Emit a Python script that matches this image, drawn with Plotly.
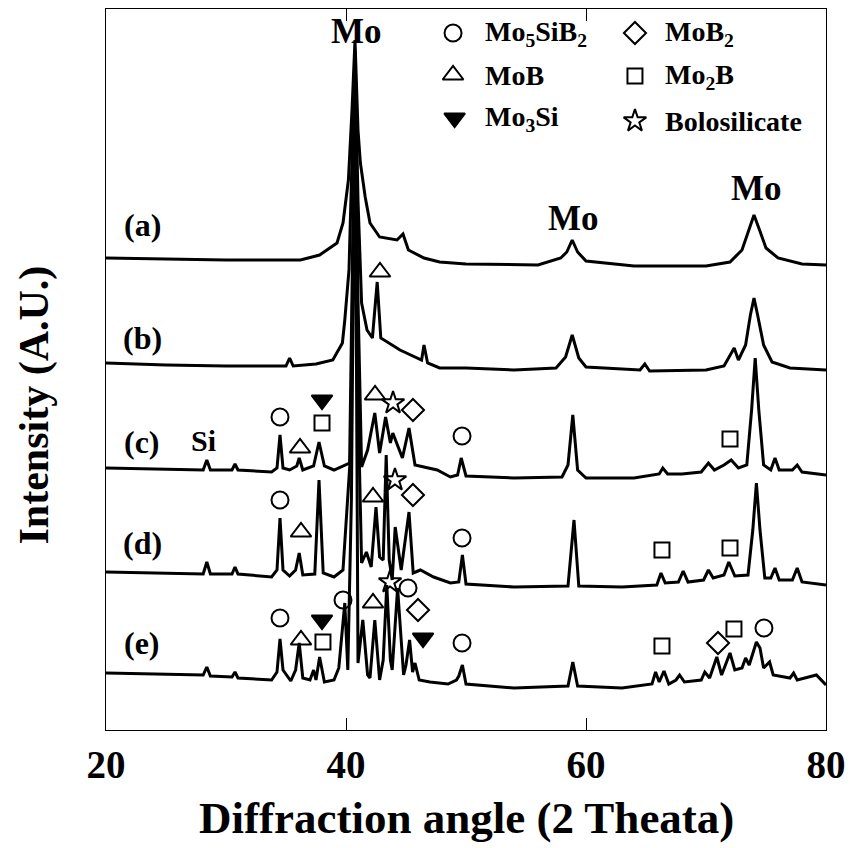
import plotly.graph_objects as go

# XRD patterns, (2 theta, intensity); each pattern already carries its stacking offset
pattern_a = [(20, 472), (25, 471), (30, 470), (34, 470), (36.2, 470), (37.8, 475), (39.25, 487), (39.75, 507),
             (40.2, 550), (40.5, 620), (40.75, 690), (41.0, 600), (41.2, 567), (41.6, 533), (42.0, 507), (42.8, 493),
             (44.25, 490), (44.75, 496), (45.2, 480), (46.5, 472), (47.8, 468), (50, 466), (56, 465), (57.9, 472),
             (58.4, 478), (58.85, 490), (59.3, 478), (60.0, 469), (64, 464), (70, 464), (72, 468), (73.0, 480),
             (73.6, 500), (74.0, 515), (74.4, 502), (75.0, 482), (76, 472), (78, 466), (80, 465)]

pattern_b = [(20, 367), (25, 365), (30, 364), (35.0, 364), (35.3, 372), (35.6, 364), (37.5, 366), (38.9, 370),
             (39.7, 387), (39.9, 410), (40.25, 460), (40.5, 580), (40.75, 680), (41.0, 530), (41.3, 427), (41.75, 400),
             (42.2, 392), (42.6, 448), (42.9, 392), (44.5, 380), (46.3, 370), (46.5, 385), (46.8, 367), (47.8, 362),
             (50, 362), (54, 360), (57.5, 362), (58.3, 373), (58.85, 395), (59.4, 372), (60, 363), (64.5, 360),
             (64.9, 366), (65.3, 359), (70, 360), (71.5, 364), (72.35, 382), (72.7, 370), (73.3, 385), (73.7, 415),
             (74.0, 432), (74.3, 415), (74.8, 385), (75.5, 368), (77, 362), (80, 360)]

pattern_c = [(20, 262), (24, 261), (28.1, 260), (28.4, 270), (28.7, 260), (30.5, 260), (30.75, 266), (31.0, 260),
             (33.8, 258), (34.25, 262), (34.5, 295), (34.75, 262), (35.3, 260), (35.9, 264), (36.1, 272), (36.4, 260),
             (37.3, 264), (37.75, 288), (38.2, 264), (39.0, 260), (40.3, 267), (40.55, 480), (40.75, 670), (41.0, 430),
             (41.3, 263), (41.8, 280), (42.4, 317), (42.8, 277), (43.3, 313), (43.7, 287), (43.9, 297), (44.7, 272),
             (45.25, 302), (45.75, 265), (47.6, 260), (48.7, 253), (49.3, 255), (49.6, 272), (50.0, 254), (54, 252),
             (58.0, 253), (58.5, 265), (58.9, 315), (59.3, 260), (60, 252), (64, 252), (66.1, 256), (66.4, 262),
             (66.8, 256), (68, 256), (69.6, 258), (70.2, 267), (70.7, 260), (71.5, 265), (72.1, 270), (72.7, 262),
             (73.4, 265), (73.8, 320), (74.1, 372), (74.4, 320), (74.8, 265), (75.4, 260), (75.75, 272), (76.1, 260),
             (77.2, 260), (77.6, 265), (78.0, 258), (80, 255)]

pattern_d = [(20, 158), (24, 157), (28.1, 156), (28.4, 168), (28.7, 156), (30.5, 156), (30.75, 163), (31.0, 156),
             (33.8, 153), (34.25, 160), (34.5, 212), (34.75, 160), (35.3, 154), (35.8, 160), (36.1, 177), (36.4, 155),
             (37.4, 156), (37.75, 250), (38.1, 157), (39.0, 153), (39.75, 160), (40.4, 280), (40.75, 660), (41.0, 330),
             (41.3, 167), (41.7, 178), (42.1, 163), (42.5, 223), (42.8, 173), (43.1, 170), (43.35, 275), (43.6, 170),
             (43.85, 150), (44.1, 203), (44.6, 160), (45.25, 218), (45.6, 157), (46.2, 160), (47.3, 153), (48.7, 147),
             (49.4, 148), (49.7, 175), (50.0, 146), (54, 143), (58.5, 144), (59.0, 210), (59.4, 144), (63, 143),
             (65.9, 145), (66.25, 157), (66.6, 147), (67.7, 148), (68.1, 159), (68.5, 148), (69.8, 150), (70.2, 160),
             (70.6, 152), (71.5, 155), (71.9, 168), (72.4, 154), (73.5, 155), (73.9, 200), (74.2, 247), (74.5, 200),
             (74.9, 152), (75.4, 152), (75.75, 162), (76.1, 150), (77.2, 150), (77.6, 162), (78.0, 148), (80, 145)]

pattern_e = [(20, 57), (24, 56), (28.1, 55), (28.4, 63), (28.7, 54), (30.5, 53), (30.75, 58), (31.0, 52),
             (33.8, 50), (34.25, 58), (34.5, 91), (34.75, 60), (35.4, 49), (35.8, 60), (36.1, 87), (36.4, 52),
             (37.0, 50), (37.3, 60), (37.5, 50), (37.8, 73), (38.2, 48), (39.0, 50), (39.4, 62), (39.9, 127),
             (40.15, 60), (40.45, 230), (40.75, 650), (41.0, 67), (41.4, 110), (41.8, 55), (42.0, 52), (42.4, 110),
             (42.8, 50), (43.1, 70), (43.4, 145), (43.7, 70), (43.85, 60), (44.3, 142), (44.8, 55), (45.0, 65),
             (45.3, 90), (45.55, 58), (45.75, 67), (46.1, 50), (47, 48), (48.5, 46), (49.2, 50), (49.4, 54),
             (49.7, 65), (50.0, 46), (54, 42), (58.5, 44), (58.9, 68), (59.3, 44), (63, 42), (65.5, 46),
             (65.8, 58), (66.1, 48), (66.5, 59), (66.9, 46), (67.5, 50), (67.8, 55), (68.2, 48), (69.6, 50),
             (69.9, 58), (70.3, 52), (70.9, 73), (71.3, 55), (72.0, 77), (72.4, 60), (73.0, 62), (73.3, 72),
             (73.6, 65), (74.2, 88), (74.5, 82), (74.8, 62), (75.3, 68), (75.6, 55), (77.0, 52), (77.3, 57),
             (77.6, 50), (79.2, 55), (80, 45)]

patterns = [pattern_a, pattern_b, pattern_c, pattern_d, pattern_e]
sample_names = ['(a)', '(b)', '(c)', '(d)', '(e)']

# phase identification marks (2 theta, height)
peaks_mo5sib2 = [(34.5, 313), (49.67, 294), (34.5, 230), (49.67, 192), (34.5, 112), (39.75, 130),
                 (45.17, 142), (49.67, 87), (74.83, 102)]
peaks_mob = [(42.83, 458), (36.17, 282), (42.42, 335), (36.25, 198), (42.25, 233), (36.25, 90), (42.25, 127)]
peaks_mo3si = [(38.0, 330), (38.0, 110), (46.42, 92)]
peaks_mob2 = [(45.58, 320), (45.58, 235), (46.0, 120), (71.0, 87)]
peaks_mo2b = [(38.0, 307), (72.0, 291), (66.33, 180), (72.0, 182), (38.08, 88), (66.33, 84), (72.33, 101)]
peaks_boro = [(43.92, 327), (44.08, 250), (43.67, 148)]

FONT = 'Liberation Serif'

fig = go.Figure()

for pat in patterns:
    fig.add_trace(go.Scatter(
        x=[p[0] for p in pat], y=[p[1] for p in pat],
        mode='lines', line=dict(color='black', width=3), hoverinfo='skip'))

# markers: (points, symbol, size, legend position, legend text)
phases = [
    (peaks_mo5sib2, 'circle-open', 17, 48.92, 697, 51.42, 'Mo<sub>5</sub>SiB<sub>2</sub>'),
    (peaks_mob, 'triangle-up-open', 18, 48.92, 655, 51.42, 'MoB'),
    (peaks_mo3si, 'triangle-down', 18, 49.05, 612, 51.42, 'Mo<sub>3</sub>Si'),
    (peaks_mob2, 'diamond-open', 17, 64.08, 697, 66.42, 'MoB<sub>2</sub>'),
    (peaks_mo2b, 'square-open', 15, 64.08, 654, 66.42, 'Mo<sub>2</sub>B'),
    (peaks_boro, 'star-open', 17, 64.08, 609, 66.42, 'Bolosilicate'),
]
for pts, sym, size, lx, ly, tx, name in phases:
    fig.add_trace(go.Scatter(
        x=[p[0] for p in pts] + [lx], y=[p[1] for p in pts] + [ly],
        mode='markers', hoverinfo='skip',
        marker=dict(symbol=sym, size=size, color='black', line=dict(color='black', width=2))))
    fig.add_annotation(x=tx, y=ly, text=name, showarrow=False, xanchor='left', yanchor='middle',
                       font=dict(family=FONT, size=28, color='black', weight='bold'))

# sample labels
for name, y in zip(sample_names, [505, 392, 288, 187, 87]):
    fig.add_annotation(x=23.0, y=y, text=name, showarrow=False,
                       font=dict(family=FONT, size=32, color='black', weight='bold'))

for txt, x, y, s in [('Mo', 40.85, 699, 35), ('Mo', 58.92, 512, 35), ('Mo', 74.17, 542, 35), ('Si', 28.1, 290, 30)]:
    fig.add_annotation(x=x, y=y, text=txt, showarrow=False,
                       font=dict(family=FONT, size=s, color='black', weight='bold'))

fig.add_annotation(xref='paper', yref='paper', x=0.5, y=-0.122, text='Diffraction angle (2 Theata)',
                   showarrow=False, xanchor='center', yanchor='middle',
                   font=dict(family=FONT, size=45, color='black', weight='bold'))
fig.add_annotation(xref='paper', yref='paper', x=-0.099, y=0.451, text='Intensity (A.U.)', textangle=-90,
                   showarrow=False, xanchor='center', yanchor='middle',
                   font=dict(family=FONT, size=42, color='black', weight='bold'))

fig.update_layout(
    width=850, height=848,
    margin=dict(l=106, r=24, t=9, b=118, autoexpand=False),
    plot_bgcolor='white', paper_bgcolor='white',
    showlegend=False,
    xaxis=dict(range=[20, 80], tickvals=[20, 40, 60, 80], ticks='inside', ticklen=12, tickwidth=1,
               tickcolor='black', showline=True, linecolor='black', linewidth=1.2, mirror='ticks',
               showgrid=False, zeroline=False, automargin=False,
               tickfont=dict(family=FONT, size=39, color='black', weight='bold')),
    yaxis=dict(range=[0, 721], showticklabels=False, ticks='', showline=True, linecolor='black',
               linewidth=1.2, mirror=True, showgrid=False, zeroline=False, automargin=False),
)

# the page body keeps its default 8px margin otherwise, pushing the figure off the window
fig.write_html('out.html', config={'displayModeBar': False},
               post_script="document.body.style.margin='0';")
